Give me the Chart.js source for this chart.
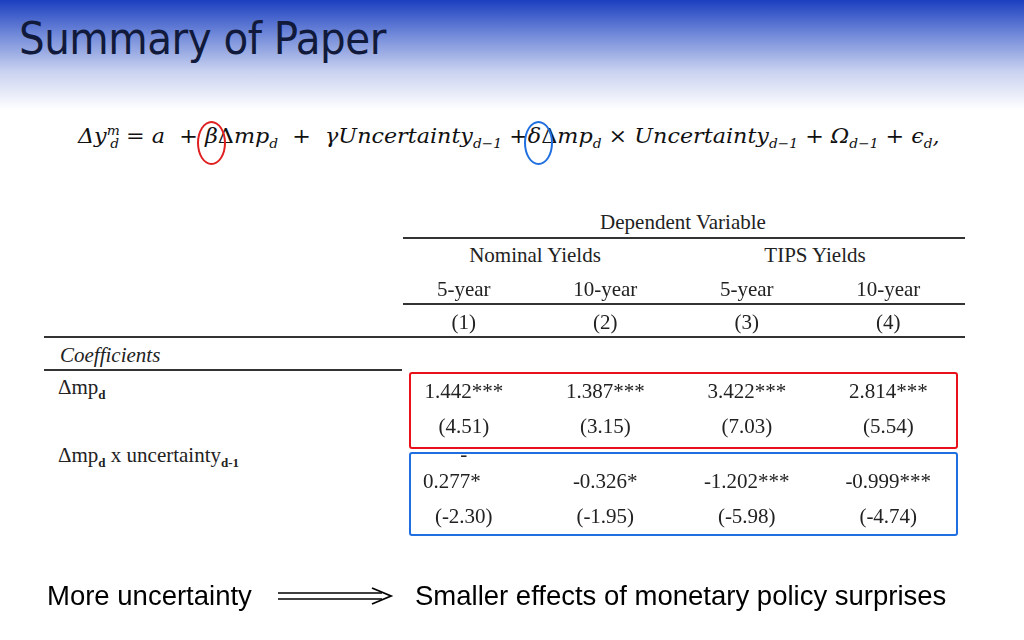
<!DOCTYPE html>
<html><head><meta charset="utf-8">
<script src="https://cdn.jsdelivr.net/npm/chart.js@4"></script>
<style>
html,body{margin:0;padding:0;width:1024px;height:640px;overflow:hidden;background:#fff;position:relative;font-family:"Liberation Serif",serif}
#hdr{position:absolute;left:0;top:0;width:1024px;height:110px;background:linear-gradient(to bottom,#1c3fc0 0%,#6d86d8 30%,#c9d2f0 65%,#ffffff 100%)}
#title{position:absolute;left:19px;top:12px;font-family:"DejaVu Sans Condensed","DejaVu Sans",sans-serif;font-size:45px;color:#111a3a;letter-spacing:-0.5px}
#eq{position:absolute;left:78px;top:123px;font-family:"DejaVu Serif",serif;font-style:italic;font-size:21px;color:#111;white-space:nowrap;transform-origin:0 0;transform:scaleX(1.06)}
.t{position:absolute;font-size:21px;color:#222;white-space:nowrap;transform:translateX(-50%)}
.ln{position:absolute;height:1.5px;background:#333}
#cv{position:absolute;left:0;top:0}
.bt{position:absolute;top:580px;font-family:"Liberation Sans",Arial,sans-serif;font-size:27.5px;color:#000}
.circ{position:absolute;border-radius:50%;border:2px solid}
</style></head><body>
<div id="hdr"></div>
<div id="title">Summary of Paper</div>
<div id="eq">Δy<sup style="font-size:13px">m</sup><sub style="font-size:13px;margin-left:-9px">d</sub> = a &nbsp;+ β<span style="font-style:normal">Δ</span>mp<sub style="font-size:13px">d</sub> &nbsp;+ &nbsp;γUncertainty<sub style="font-size:13px">d−1</sub> +δ<span style="font-style:normal">Δ</span>mp<sub style="font-size:13px">d</sub> <span style="font-style:normal">×</span> Uncertainty<sub style="font-size:13px">d−1</sub> + Ω<sub style="font-size:13px">d−1</sub> + ϵ<sub style="font-size:13px">d</sub>,</div>
<div class="circ" style="left:197px;top:121px;width:25px;height:40px;border-color:#e02020"></div>
<div class="circ" style="left:524px;top:121px;width:25px;height:40px;border-color:#1f6fe0"></div>
<div class="t" style="left:683px;top:210px">Dependent Variable</div>
<div class="ln" style="left:403px;width:562px;top:237px"></div>
<div class="t" style="left:535px;top:243px">Nominal Yields</div>
<div class="t" style="left:815px;top:243px">TIPS Yields</div>
<div class="ln" style="left:403px;width:562px;top:303px"></div>
<div class="ln" style="left:44px;width:921px;top:336px"></div>
<div class="ln" style="left:44px;width:358px;top:369px"></div>
<div class="t" style="left:60px;top:343px;transform:none;font-style:italic">Coefficients</div>
<div class="t" style="left:58px;top:375px;transform:none">Δmp<sub style="font-size:13px;font-weight:bold">d</sub></div>
<div class="t" style="left:58px;top:443px;transform:none">Δmp<sub style="font-size:13px;font-weight:bold">d</sub> x uncertainty<sub style="font-size:13px;font-weight:bold">d-1</sub></div>
<div style="position:absolute;left:409px;top:372px;width:545px;height:73px;border:2.5px solid #e8101a;border-radius:3px"></div>
<div style="position:absolute;left:409px;top:452px;width:545px;height:80px;border:2.5px solid #1f6fe0;border-radius:3px"></div>
<canvas id="cv" width="1024" height="640"></canvas>
<div class="bt" style="left:47px">More uncertainty</div>
<svg style="position:absolute;left:278px;top:585px" width="116" height="22"><line x1="0" y1="8" x2="104" y2="8" stroke="#000" stroke-width="1.5"/><line x1="0" y1="14" x2="104" y2="14" stroke="#000" stroke-width="1.5"/><path d="M94 3 L113 11 L94 19" fill="none" stroke="#000" stroke-width="1.8"/></svg>
<div class="bt" style="left:415px">Smaller effects of monetary policy surprises</div>
<script>
const columns = ['(1)','(2)','(3)','(4)'];
const maturities = ['5-year','10-year','5-year','10-year'];
const betaCoef = [1.442, 1.387, 3.422, 2.814];
const betaStars = ['***','***','***','***'];
const betaT = [4.51, 3.15, 7.03, 5.54];
const deltaCoef = [-0.277, -0.326, -1.202, -0.999];
const deltaStars = ['*','*','***','***'];
const deltaT = [-2.30, -1.95, -5.98, -4.74];

const tablePlugin = {
  id:'tbl',
  afterDraw(chart){
    const c = chart.ctx, x = chart.scales.x;
    c.save();
    c.fillStyle='#222'; c.font='21px "Liberation Serif", serif';
    c.textAlign='center'; c.textBaseline='middle';
    columns.forEach((lab,i)=>{
      const px = x.getPixelForValue(i);
      c.fillText(maturities[i], px, 290);
      c.fillText(lab, px, 323);
      c.fillText(betaCoef[i].toFixed(3)+betaStars[i], px, 392);
      c.fillText('('+betaT[i].toFixed(2)+')', px, 427);
      if(i===0){
        c.fillText('-', px, 455);
        c.fillText(Math.abs(deltaCoef[i]).toFixed(3)+deltaStars[i], px-12, 482);
      } else c.fillText(deltaCoef[i].toFixed(3)+deltaStars[i], px, 482);
      c.fillText('('+deltaT[i].toFixed(2)+')', px, 517);
    });
    c.restore();
  }
};
new Chart(document.getElementById('cv'),{
  type:'bar',
  data:{labels:columns,datasets:[{data:[0,0,0,0]}]},
  options:{responsive:false,animation:false,
    layout:{padding:{left:393,right:65,top:0,bottom:0}},
    plugins:{legend:{display:false},tooltip:{enabled:false}},
    scales:{x:{display:false},y:{display:false}}},
  plugins:[tablePlugin]
});
</script>
</body></html>
